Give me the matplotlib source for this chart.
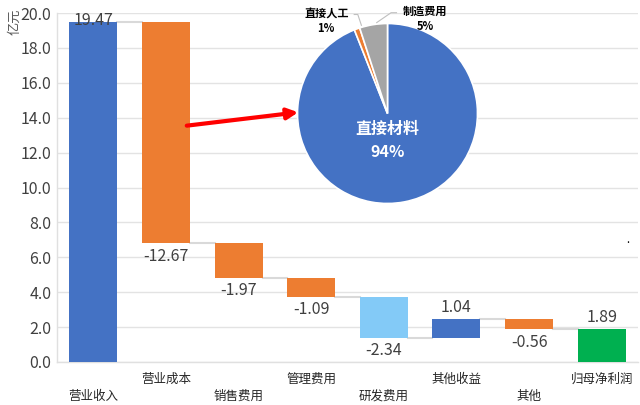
import matplotlib
matplotlib.use("Agg")
import matplotlib.pyplot as plt
from matplotlib.patches import FancyArrowPatch
import numpy as np

plt.rcParams['font.family'] = ['Noto Sans CJK SC', 'DejaVu Sans']

categories = ['营业收入', '营业成本', '销售费用', '管理费用', '研发费用', '其他收益', '其他', '归母净利润']
values = [19.47, -12.67, -1.97, -1.09, -2.34, 1.04, -0.56, 1.89]
value_labels = ['19.47', '-12.67', '-1.97', '-1.09', '-2.34', '1.04', '-0.56', '1.89']
bar_colors = ['#4472C4', '#ED7D31', '#ED7D31', '#ED7D31', '#83CAF7', '#4472C4', '#ED7D31', '#00B050']

pie_labels = ['直接材料', '直接人工', '制造费用']
pie_values = [94, 1, 5]
pie_colors = ['#4472C4', '#ED7D31', '#A5A5A5']

yticks = [0, 2, 4, 6, 8, 10, 12, 14, 16, 18, 20]

fig = plt.figure(figsize=(6.4, 4.05), dpi=100)
ax = fig.add_axes([57/640, 1-362/405, 581/640, (362-13)/405])

n = len(values)
x = np.arange(n)
bottoms, heights = [], []
run = 0.0
for i, v in enumerate(values):
    if i == 0 or i == n - 1:
        bottoms.append(0.0); heights.append(v); run = v
    else:
        new = run + v
        bottoms.append(min(run, new)); heights.append(abs(v)); run = new

w = 0.66
ax.bar(x, heights, bottom=bottoms, width=w, color=bar_colors, zorder=3)

# connector lines
levels = []
run = 0.0
for i, v in enumerate(values):
    if i == 0 or i == n - 1:
        run = v
    else:
        run = run + v
    levels.append(run)
for i in range(n - 1):
    ax.plot([x[i] + w/2, x[i+1] - w/2], [levels[i], levels[i]], color='#D9D9D9', lw=1.5, zorder=2)

# value labels
for i, v in enumerate(values):
    top = bottoms[i] + heights[i]
    if i == 0:
        ax.text(x[i], top + 0.1, value_labels[i], ha='center', va='center', fontsize=11.5, color='#404040', zorder=4)
    elif v < 0:
        ax.text(x[i], bottoms[i] - 0.25, value_labels[i], ha='center', va='top', fontsize=11.5, color='#404040')
    else:
        ax.text(x[i], top + 0.2, value_labels[i], ha='center', va='bottom', fontsize=11.5, color='#404040')

ax.set_xlim(-0.5, n - 0.5)
ax.set_ylim(0, 20)
ax.set_yticks(yticks)
ax.set_yticklabels([f'{t:.1f}' for t in yticks], fontsize=11.5, color='#404040')
ax.set_xticks(x)
ax.set_xticklabels([('\n' + c) if i % 2 == 0 else c for i, c in enumerate(categories)],
                   fontsize=9, color='#262626', linespacing=1.35)
ax.tick_params(axis='x', length=0, pad=8)
ax.tick_params(axis='y', length=0, pad=4)
ax.grid(axis='y', color='#E3E3E3', lw=1, zorder=0)
for s in ['top', 'right']:
    ax.spines[s].set_visible(False)
ax.spines['left'].set_color('#E0E0E0')
ax.spines['bottom'].set_color('#E0E0E0')
ax.spines['left'].set_linewidth(1)
ax.spines['bottom'].set_linewidth(1)

fig.text(15/640, 1-22/405, '亿元', rotation=90, ha='center', va='center', fontsize=9.5, color='#595959')

# pie inset
pax = fig.add_axes([297.5/640, 1-203.5/405, 180/640, 180/405])
pax.pie(pie_values, colors=pie_colors, startangle=90, counterclock=False,
        wedgeprops=dict(edgecolor='white', linewidth=1.2))
pax.set_xlim(-1, 1); pax.set_ylim(-1, 1)
pax.set_aspect('equal')
pax.axis('off')
pax.text(0, -0.3, f'{pie_labels[0]}\n{pie_values[0]}%', ha='center', va='center', color='white',
         fontsize=11.5, fontweight='bold', linespacing=1.5)
pax.text(-0.68, 1.12, pie_labels[1], ha='center', va='center', fontsize=8, fontweight='bold', clip_on=False)
pax.text(-0.68, 0.95, f'{pie_values[1]}%', ha='center', va='center', fontsize=8, fontweight='bold', clip_on=False)
pax.text(0.42, 1.14, pie_labels[2], ha='center', va='center', fontsize=8, fontweight='bold', clip_on=False)
pax.text(0.42, 0.97, f'{pie_values[2]}%', ha='center', va='center', fontsize=8, fontweight='bold', clip_on=False)
pax.plot([-0.37, -0.33, -0.29], [1.1, 1.1, 0.98], color='#BFBFBF', lw=0.8, clip_on=False)
pax.plot([0.1, 0.04, -0.12], [1.12, 1.12, 1.01], color='#BFBFBF', lw=0.8, clip_on=False)

arrow = FancyArrowPatch((184/640, 1-126/405), (301/640, 1-112/405), transform=fig.transFigure,
                        arrowstyle='-|>', mutation_scale=16, color='#FF0000', lw=3)
fig.patches.append(arrow)

fig.text(628/640, 1-240/405, '.', ha='center', va='center', fontsize=8, color='black')

fig.savefig('out.png', dpi=100)
